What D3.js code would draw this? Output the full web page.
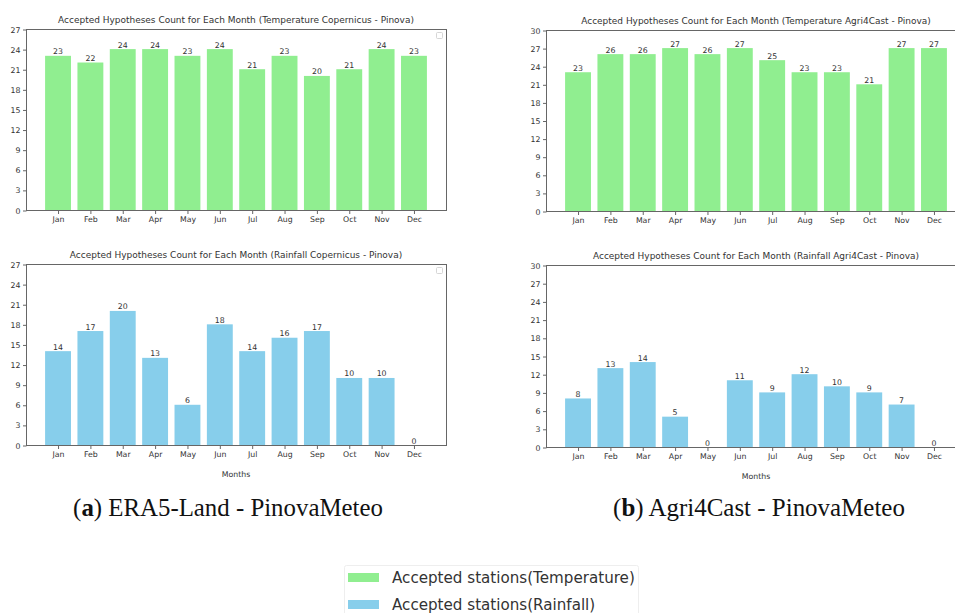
<!DOCTYPE html>
<html>
<head>
<meta charset="utf-8">
<script src="https://cdn.jsdelivr.net/npm/d3@7"></script>
<style>
  html, body { margin: 0; padding: 0; background: #fff; }
  svg { display: block; }
</style>
</head>
<body>
<svg id="chart" width="955" height="613"></svg>
<script>
// ---------- data ----------
const months = ["Jan","Feb","Mar","Apr","May","Jun","Jul","Aug","Sep","Oct","Nov","Dec"];
const tempCopernicus = [23,22,24,24,23,24,21,23,20,21,24,23];
const tempAgri4Cast  = [23,26,26,27,26,27,25,23,23,21,27,27];
const rainCopernicus = [14,17,20,13,6,18,14,16,17,10,10,0];
const rainAgri4Cast  = [8,13,14,5,0,11,9,12,10,9,7,0];
const yTicksCopernicus = [0,3,6,9,12,15,18,21,24,27];
const yTicksAgri4Cast  = [0,3,6,9,12,15,18,21,24,27,30];
const titles = [
  "Accepted Hypotheses Count for Each Month (Temperature Copernicus - Pinova)",
  "Accepted Hypotheses Count for Each Month (Temperature Agri4Cast - Pinova)",
  "Accepted Hypotheses Count for Each Month (Rainfall Copernicus - Pinova)",
  "Accepted Hypotheses Count for Each Month (Rainfall Agri4Cast - Pinova)"
];
const xLabel = "Months";
const legendLabels = ["Accepted stations(Temperature)", "Accepted stations(Rainfall)"];
const captionLetters = ["a", "b"];
const captionTexts = [" ERA5-Land - PinovaMeteo", " Agri4Cast - PinovaMeteo"];

// ---------- styles ----------
const GREEN = "#90ee90", BLUE = "#87ceeb";
const TEXT = "#333", SPINE = "#666";
const SANS = "'DejaVu Sans', sans-serif";
const SERIF = "'Liberation Serif', 'DejaVu Serif', serif";

const svg = d3.select("#chart");

function fitFont(sel, target) {
  const fs = parseFloat(sel.attr("font-size"));
  const w = sel.node().getComputedTextLength();
  if (w > 0) sel.attr("font-size", fs * target / w);
  return parseFloat(sel.attr("font-size"));
}

const probe = svg.append("text").attr("font-family", SANS).attr("font-size", 10).text(titles[0]);
const titleFS = fitFont(probe, 356);
probe.remove();

const panels = [
  {x0: 26,  x1: 446, y0: 29,  y1: 210, data: tempCopernicus, ticks: yTicksCopernicus, color: GREEN, title: titles[0], months: false, legendBox: true},
  {x0: 546, x1: 966, y0: 30,  y1: 211, data: tempAgri4Cast,  ticks: yTicksAgri4Cast,  color: GREEN, title: titles[1], months: false, legendBox: false},
  {x0: 26,  x1: 446, y0: 264, y1: 445, data: rainCopernicus, ticks: yTicksCopernicus, color: BLUE,  title: titles[2], months: true,  legendBox: true},
  {x0: 546, x1: 966, y0: 265, y1: 447, data: rainAgri4Cast,  ticks: yTicksAgri4Cast,  color: BLUE,  title: titles[3], months: true,  legendBox: false}
];

panels.forEach(p => {
  const g = svg.append("g");
  const x = d3.scaleBand().domain(months).range([p.x0, p.x1]).paddingInner(0.2).paddingOuter(0.59);
  const yMax = d3.max(p.ticks);
  const y = d3.scaleLinear().domain([0, yMax]).range([p.y1, p.y0]);

  g.selectAll("rect.bar").data(p.data).join("rect")
    .attr("class", "bar")
    .attr("x", (d, i) => x(months[i]))
    .attr("width", x.bandwidth())
    .attr("y", d => y(d))
    .attr("height", d => y(0) - y(d))
    .attr("fill", p.color);

  g.selectAll("text.val").data(p.data).join("text")
    .attr("class", "val")
    .attr("x", (d, i) => x(months[i]) + x.bandwidth() / 2)
    .attr("y", d => y(d) - 1.5)
    .attr("text-anchor", "middle")
    .attr("font-family", SANS)
    .attr("font-size", 7.8)
    .attr("fill", TEXT)
    .text(d => d);

  g.append("rect")
    .attr("x", p.x0 + 0.5).attr("y", p.y0 + 0.5)
    .attr("width", p.x1 - p.x0).attr("height", p.y1 - p.y0)
    .attr("fill", "none").attr("stroke", SPINE).attr("stroke-width", 1);

  const xAxis = d3.axisBottom(x).tickSize(3.5).tickPadding(2.5);
  const gx = g.append("g").attr("transform", `translate(0.5,${p.y1 + 0.5})`).call(xAxis);
  gx.select(".domain").remove();
  gx.selectAll("line").attr("stroke", SPINE);
  gx.selectAll("text").attr("font-family", SANS).attr("font-size", 7.8).attr("fill", TEXT);

  const yAxis = d3.axisLeft(y).tickValues(p.ticks).tickSize(3.5).tickPadding(2.5);
  const gy = g.append("g").attr("transform", `translate(${p.x0 + 0.5},0.5)`).call(yAxis);
  gy.select(".domain").remove();
  gy.selectAll("line").attr("stroke", SPINE);
  gy.selectAll("text").attr("font-family", SANS).attr("font-size", 7.8).attr("fill", TEXT);

  g.append("text")
    .attr("x", (p.x0 + p.x1) / 2)
    .attr("y", p.y0 - 6)
    .attr("text-anchor", "middle")
    .attr("font-family", SANS)
    .attr("font-size", titleFS)
    .attr("fill", TEXT)
    .text(p.title);

  if (p.months) {
    g.append("text")
      .attr("x", (p.x0 + p.x1) / 2)
      .attr("y", p.y1 + 32)
      .attr("text-anchor", "middle")
      .attr("font-family", SANS)
      .attr("font-size", 7.8)
      .attr("fill", TEXT)
      .text(xLabel);
  }

  if (p.legendBox) {
    g.append("rect")
      .attr("x", p.x1 - 9.5).attr("y", p.y0 + 3.5)
      .attr("width", 6).attr("height", 6).attr("rx", 1)
      .attr("fill", "#fff").attr("stroke", "#ccc").attr("stroke-width", 0.8);
  }
});

// captions
const capCenters = [228, 759];
const capWidths = [310, 292];
captionLetters.forEach((letter, i) => {
  const t = svg.append("text")
    .attr("x", capCenters[i]).attr("y", 516)
    .attr("text-anchor", "middle")
    .attr("font-family", SERIF)
    .attr("font-size", 20)
    .attr("fill", "#111");
  t.append("tspan").text("(");
  t.append("tspan").attr("font-weight", "bold").text(letter);
  t.append("tspan").text(")" + captionTexts[i]);
  fitFont(t, capWidths[i]);
});

// legend
const lg = svg.append("g");
lg.append("rect")
  .attr("x", 344.5).attr("y", 565.5).attr("width", 294).attr("height", 60).attr("rx", 2)
  .attr("fill", "#fff").attr("stroke", "#eee").attr("stroke-width", 1);
const legColors = [GREEN, BLUE];
const legY = [577.5, 604.5];
let legFS = null;
legendLabels.forEach((lab, i) => {
  lg.append("rect")
    .attr("x", 348).attr("y", legY[i] - 4.5).attr("width", 31).attr("height", 9)
    .attr("fill", legColors[i]);
  const t = lg.append("text")
    .attr("x", 392).attr("y", legY[i])
    .attr("dy", "0.35em")
    .attr("font-family", SANS)
    .attr("font-size", 14)
    .attr("fill", TEXT)
    .text(lab);
  if (i === 0) legFS = fitFont(t, 243);
  else t.attr("font-size", legFS);
});
</script>
</body>
</html>
